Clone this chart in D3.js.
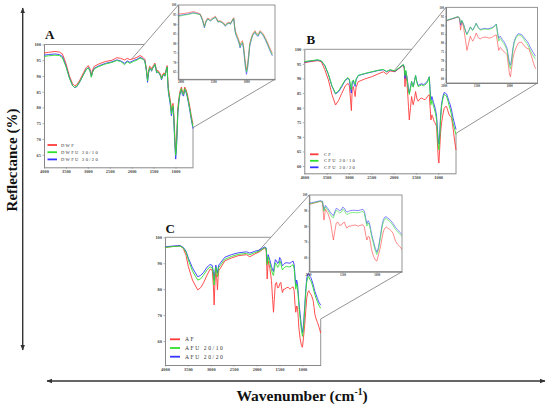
<!DOCTYPE html>
<html lang="en">
<head>
<meta charset="UTF-8">
<title>FTIR reflectance</title>
<script src="https://cdn.jsdelivr.net/npm/d3@7"></script>
<style>
  body { margin: 0; background: #fff; }
</style>
</head>
<body>
<div id="chart"></div>
<script>
// ---- panel A : wavenumber (cm-1) and reflectance (%) ----
const wnA = [4000, 3900, 3750, 3650, 3580, 3500, 3420, 3350, 3300, 3250,
  3180, 3100, 3040, 2990, 2950, 2920, 2890, 2850, 2750, 2600,
  2450, 2340, 2250, 2160, 2100, 2040, 1960, 1880, 1810, 1760,
  1735, 1700, 1665, 1637, 1615, 1590, 1565, 1545, 1520, 1490,
  1470, 1450, 1430, 1400, 1370, 1340, 1318, 1290, 1260, 1240,
  1215, 1190, 1175, 1160, 1130, 1110, 1093, 1075, 1056, 1040,
  1025, 1010, 995, 980, 965, 945, 920, 900, 865, 840,
  815, 790, 760, 730, 700, 670, 640, 600];
const dwf = [97.3, 97.5, 97.8, 97.6, 97.0, 94.0, 90.0, 87.6, 86.9, 87.2,
  88.8, 91.0, 92.6, 93.3, 92.3, 90.4, 92.0, 93.1, 93.8, 94.6,
  95.0, 95.8, 95.6, 95.1, 95.6, 95.2, 95.5, 95.9, 96.5, 96.1,
  95.8, 95.3, 92.5, 89.1, 91.5, 93.1, 92.8, 92.2, 93.0, 93.6,
  94.1, 93.0, 91.5, 91.8, 91.2, 90.5, 89.4, 90.6, 91.0, 90.4,
  92.0, 93.3, 89.0, 86.0, 83.3, 81.5, 79.0, 80.5, 81.3, 78.5,
  74.0, 69.5, 66.0, 68.5, 73.0, 80.0, 83.0, 85.0, 86.5, 85.0,
  84.5, 86.5, 85.7, 84.3, 82.2, 80.0, 77.5, 74.6];
const dwfu2010 = [96.2, 96.4, 96.6, 96.5, 95.8, 93.0, 89.3, 87.0, 86.4, 86.7,
  88.3, 90.4, 92.0, 92.6, 91.6, 89.6, 91.2, 92.3, 93.0, 93.8,
  94.3, 94.9, 94.6, 93.6, 94.5, 94.0, 94.6, 95.0, 95.7, 95.4,
  95.2, 94.8, 92.0, 88.5, 91.0, 92.6, 92.3, 91.7, 92.5, 93.1,
  93.7, 92.6, 91.1, 91.4, 90.8, 90.1, 89.0, 90.2, 90.6, 90.0,
  91.6, 92.9, 88.0, 85.0, 82.5, 80.6, 78.0, 79.8, 80.6, 77.5,
  72.5, 68.0, 64.8, 67.0, 71.8, 79.0, 82.3, 84.4, 86.0, 84.4,
  84.0, 86.0, 85.2, 83.7, 81.6, 79.3, 76.7, 73.8];
const dwfu2020 = [96.6, 96.8, 97.0, 96.8, 96.2, 93.3, 89.4, 87.0, 86.3, 86.6,
  88.2, 90.4, 92.0, 92.7, 91.7, 89.8, 91.4, 92.5, 93.2, 94.0,
  94.5, 95.1, 94.8, 94.0, 94.8, 94.3, 94.9, 95.3, 95.9, 95.6,
  95.4, 94.9, 91.8, 88.0, 90.8, 92.5, 92.2, 91.5, 92.4, 93.0,
  93.6, 92.5, 91.0, 91.3, 90.7, 90.0, 88.8, 90.0, 90.5, 89.9,
  91.5, 92.8, 87.6, 84.6, 82.0, 80.0, 77.4, 79.2, 80.0, 76.8,
  71.8, 67.0, 63.6, 66.2, 71.0, 78.4, 81.9, 84.0, 85.6, 84.0,
  83.6, 85.7, 84.9, 83.3, 81.2, 78.8, 76.2, 73.3];

// ---- panel B ----
const wnB = [4000, 3850, 3700, 3620, 3540, 3460, 3380, 3300, 3230, 3160,
  3080, 3020, 2990, 2965, 2945, 2925, 2900, 2880, 2860, 2840,
  2790, 2650, 2490, 2350, 2230, 2155, 2080, 1968, 1880, 1781,
  1760, 1744, 1725, 1700, 1665, 1647, 1620, 1595, 1575, 1558,
  1530, 1506, 1475, 1446, 1410, 1371, 1330, 1296, 1260, 1237,
  1199, 1180, 1162, 1140, 1125, 1105, 1088, 1060, 1035, 1010,
  995, 983, 965, 945, 924, 895, 864, 840, 812, 785,
  760, 730, 700, 680, 662, 630, 600];
const cf = [95.4, 95.8, 96.1, 95.8, 93.0, 89.5, 84.5, 80.9, 82.5, 84.9,
  87.5, 88.3, 87.5, 83.0, 79.0, 86.5, 87.2, 85.5, 83.8, 87.0,
  88.9, 89.8, 90.6, 91.5, 92.3, 91.5, 92.6, 92.3, 93.4, 94.5,
  93.5, 87.2, 91.7, 89.0, 80.5, 75.8, 80.0, 83.8, 82.0, 81.0,
  83.0, 85.5, 83.0, 82.2, 83.0, 83.3, 82.9, 82.7, 83.3, 83.9,
  84.5, 80.0, 75.8, 77.5, 77.0, 76.0, 75.2, 74.5, 73.5, 66.0,
  62.0, 61.0, 66.0, 71.5, 74.7, 77.5, 79.8, 80.3, 80.4, 79.0,
  77.8, 77.0, 76.6, 74.5, 72.6, 68.5, 65.5];
const cfu2010 = [95.8, 96.1, 96.4, 96.1, 94.5, 91.5, 87.5, 84.9, 85.8, 87.6,
  89.6, 90.3, 89.8, 88.0, 86.2, 89.0, 89.5, 88.6, 88.0, 89.8,
  91.1, 91.7, 92.3, 92.8, 93.1, 92.4, 93.0, 92.6, 93.6, 94.8,
  94.0, 91.0, 92.8, 90.5, 86.0, 84.5, 86.5, 89.0, 87.5, 87.0,
  89.0, 91.0, 88.5, 87.2, 87.5, 87.8, 87.5, 87.8, 88.3, 88.8,
  90.5, 85.0, 81.0, 82.5, 81.8, 80.6, 79.8, 78.0, 75.8, 70.0,
  66.5, 65.5, 69.5, 76.0, 80.4, 83.0, 84.5, 84.2, 83.9, 82.5,
  81.0, 79.5, 77.5, 75.8, 74.5, 72.5, 70.8];
const cfu2020 = [95.6, 96.0, 96.3, 96.0, 94.4, 91.4, 87.3, 84.7, 85.5, 87.2,
  89.4, 90.1, 89.4, 86.8, 85.0, 88.5, 89.3, 88.0, 87.3, 89.5,
  91.0, 91.6, 92.2, 92.7, 93.0, 92.3, 92.9, 92.5, 93.5, 94.7,
  93.8, 90.0, 92.5, 90.6, 86.5, 85.0, 87.0, 89.0, 87.8, 87.3,
  89.2, 91.0, 88.8, 87.6, 87.9, 88.2, 87.9, 88.2, 88.7, 89.2,
  90.6, 86.0, 82.5, 83.8, 83.0, 81.8, 81.0, 79.3, 77.0, 71.5,
  68.0, 67.5, 71.0, 77.2, 81.2, 83.7, 85.2, 85.0, 84.7, 83.5,
  82.2, 81.0, 79.2, 77.5, 76.3, 74.3, 72.5];

// ---- panel C ----
const wnC = [4000, 3850, 3672, 3600, 3540, 3490, 3400, 3286, 3220, 3162,
  3080, 3017, 2970, 2945, 2927, 2910, 2890, 2870, 2854, 2840,
  2825, 2694, 2550, 2403, 2221, 2148, 2039, 1950, 1820, 1790,
  1769, 1755, 1748, 1710, 1675, 1650, 1631, 1610, 1590, 1566,
  1540, 1515, 1495, 1471, 1450, 1435, 1410, 1384, 1350, 1311,
  1270, 1240, 1202, 1180, 1160, 1144, 1125, 1107, 1090, 1078,
  1050, 1020, 998, 975, 947, 925, 903, 880, 859, 840,
  816, 790, 765, 745, 728, 700, 670, 640, 600];
const af = [96.1, 96.4, 96.7, 95.7, 93.0, 88.7, 83.5, 79.7, 80.6, 82.3,
  85.5, 87.7, 87.4, 82.0, 73.9, 82.0, 87.7, 84.0, 79.7, 84.5,
  87.1, 90.9, 92.0, 92.9, 93.3, 92.5, 93.6, 94.3, 95.9, 95.0,
  83.9, 88.0, 91.0, 88.0, 83.3, 76.0, 71.1, 77.0, 82.0, 82.6,
  80.5, 80.7, 82.0, 82.6, 80.0, 78.7, 80.0, 80.0, 80.5, 80.7,
  80.0, 80.5, 80.9, 79.5, 74.0, 71.1, 73.5, 73.0, 69.0, 65.3,
  61.0, 58.2, 57.6, 61.5, 66.6, 72.0, 76.9, 78.8, 79.4, 78.6,
  78.1, 77.0, 75.6, 73.0, 70.4, 68.5, 67.2, 65.5, 63.1];
const afu2010 = [96.1, 96.4, 96.6, 95.9, 94.2, 91.3, 87.0, 83.5, 84.0, 85.3,
  87.5, 88.6, 88.3, 85.5, 81.6, 85.5, 88.5, 86.5, 84.8, 86.8,
  88.4, 91.5, 92.6, 93.4, 93.8, 93.3, 94.1, 94.6, 96.0, 95.6,
  89.5, 91.5, 92.5, 90.0, 87.4, 85.8, 85.3, 88.0, 90.1, 89.5,
  88.4, 89.0, 90.9, 90.0, 88.2, 87.4, 88.0, 88.5, 88.8, 88.6,
  88.6, 89.0, 89.5, 88.0, 83.5, 80.0, 82.0, 80.5, 77.0, 74.0,
  69.0, 64.0, 61.8, 65.0, 72.5, 78.9, 83.0, 84.6, 84.8, 83.8,
  83.2, 82.0, 80.5, 79.0, 77.9, 76.5, 75.0, 73.8, 72.6];
const afu2020 = [96.3, 96.6, 96.8, 96.1, 94.6, 92.0, 88.2, 84.8, 85.3, 86.4,
  88.5, 89.5, 89.2, 86.8, 83.5, 86.8, 89.3, 87.8, 86.2, 88.0,
  89.3, 92.3, 93.3, 94.0, 94.4, 93.9, 94.6, 95.0, 96.3, 95.9,
  90.5, 92.5, 93.3, 91.2, 88.8, 87.4, 86.8, 89.4, 91.4, 90.9,
  89.9, 90.5, 92.2, 91.4, 89.7, 89.0, 89.5, 90.0, 90.2, 90.1,
  90.0, 90.4, 90.8, 89.5, 85.0, 81.5, 83.5, 82.0, 78.5, 75.5,
  70.5, 65.5, 63.2, 66.5, 74.0, 80.2, 84.3, 85.9, 86.0, 85.0,
  84.5, 83.2, 81.8, 80.4, 79.2, 77.8, 76.3, 75.0, 73.8];

// legend names and ticks
const namesA = ["DWF", "DWFU 20/10", "DWFU 20/20"];
const namesB = ["CF", "CFU 20/10", "CFU 20/20"];
const namesC = ["AF", "AFU 20/10", "AFU 20/20"];
const xTicks = [4000, 3500, 3000, 2500, 2000, 1500, 1000];
const insetXTicks = [2000, 1500, 1000];
const yTicksAB = [60, 65, 70, 75, 80, 85, 90, 95, 100];
const yTicksC = [60, 70, 80, 90, 100];

const SERIF = "'Liberation Serif', 'DejaVu Serif', serif";
const colors = ["#ff3b3b", "#2fe02f", "#3535ff"];
const drawOrder = [0, 2, 1];

// layout of each panel (pixels)
const panels = [
  { label: "A", wn: wnA, series: [dwf, dwfu2010, dwfu2020], names: namesA,
    yDomain: [61, 100], yTicks: yTicksAB.filter(v => v >= 65),
    main: { left: 44, right: 193, top: 44.5, bottom: 167.3 }, endVal: 73.6,
    inset: { left: 178.3, right: 275, top: 5, bottom: 79.3, xDomain: [2035, 560] },
    labelPos: [45, 38.5],
    legend: { x0: 47.5, x1: 57, tx: 61, y: 145, dy: 7.2, fs: 4.6 } },
  { label: "B", wn: wnB, series: [cf, cfu2010, cfu2020], names: namesB,
    yDomain: [57.5, 100], yTicks: yTicksAB,
    main: { left: 304.3, right: 456, top: 49.3, bottom: 173.3 }, endVal: 71.2,
    inset: { left: 446, right: 537.5, top: 7.3, bottom: 83, xDomain: [1967, 570] },
    labelPos: [306.5, 44],
    legend: { x0: 310, x1: 318.5, tx: 324, y: 154.3, dy: 6.5, fs: 4.6 } },
  { label: "C", wn: wnC, series: [af, afu2010, afu2020], names: namesC,
    yDomain: [50.75, 100], yTicks: yTicksC,
    main: { left: 165, right: 320.7, top: 237.3, bottom: 365 }, endVal: 68.5,
    inset: { left: 309.3, right: 402, top: 195, bottom: 271.7, xDomain: [1982, 633] },
    labelPos: [165.5, 232.5],
    legend: { x0: 170, x1: 180, tx: 185, y: 339.3, dy: 8.7, fs: 5.6 } }
];

const svg = d3.select("#chart").append("svg")
  .attr("width", 550)
  .attr("height", 407)
  .attr("font-family", SERIF);

const defs = svg.append("defs");
defs.append("marker")
  .attr("id", "arrow")
  .attr("viewBox", "0 0 10 10")
  .attr("refX", 9).attr("refY", 5)
  .attr("markerWidth", 4).attr("markerHeight", 4)
  .attr("orient", "auto-start-reverse")
  .append("path")
  .attr("d", "M0,1L10,5L0,9Z")
  .attr("fill", "#333");

// linear interpolation of a series at wavenumber w
function valueAt(wn, vals, w) {
  for (let k = 0; k < wn.length - 1; k++) {
    if (wn[k] >= w && wn[k + 1] <= w) {
      const t = (wn[k] - w) / (wn[k] - wn[k + 1]);
      return vals[k] + t * (vals[k + 1] - vals[k]);
    }
  }
  return vals[vals.length - 1];
}

function styleAxis(sel, fs) {
  sel.attr("font-family", SERIF);
  sel.select(".domain").attr("stroke", "#7a7a7a").attr("stroke-width", 0.9);
  sel.selectAll(".tick line").attr("stroke", "#7a7a7a").attr("stroke-width", 0.6);
  sel.selectAll(".tick text")
    .attr("font-size", fs)
    .attr("font-weight", "bold")
    .attr("font-family", SERIF)
    .attr("fill", "#444");
}

const fmt = d3.format("d");

panels.forEach((p, pi) => {
  const m = p.main;
  const g = svg.append("g");

  const x = d3.scaleLinear().domain([4000, 600]).range([m.left, m.right]);
  const y = d3.scaleLinear().domain(p.yDomain).range([m.bottom, m.top]);

  // axes
  g.append("g")
    .attr("transform", "translate(" + m.left + ",0)")
    .call(d3.axisLeft(y).tickValues(p.yTicks).tickFormat(fmt).tickSize(1.5).tickSizeOuter(0).tickPadding(1.5))
    .call(s => styleAxis(s, 4.4));
  g.append("g")
    .attr("transform", "translate(0," + m.bottom + ")")
    .call(d3.axisBottom(x).tickValues(xTicks).tickFormat(fmt).tickSize(1.5).tickSizeOuter(0).tickPadding(1.5))
    .call(s => styleAxis(s, 4.4));

  // connectors between main plot and inset
  const p0 = [x(2000), y(valueAt(p.wn, p.series[0], 2000))];
  const c0 = [p.inset.left, p.inset.top];
  const t = (p0[1] - m.top) / (p0[1] - c0[1]);
  const xCross = p0[0] + t * (c0[0] - p0[0]);
  const yEnd = y(p.endVal);
  const frame = [
    [[m.left, m.top], [xCross, m.top]],
    [p0, c0],
    [[m.right, m.bottom], [m.right, yEnd]],
    [[m.right, yEnd], [p.inset.right, p.inset.bottom]]
  ];
  g.selectAll("line.frame").data(frame).enter().append("line")
    .attr("class", "frame")
    .attr("x1", d => d[0][0]).attr("y1", d => d[0][1])
    .attr("x2", d => d[1][0]).attr("y2", d => d[1][1])
    .attr("stroke", "#7a7a7a")
    .attr("stroke-width", 0.8);

  // spectra
  const line = d3.line()
    .x((d, k) => x(p.wn[k]))
    .y(d => y(d));
  drawOrder.forEach(k => {
    g.append("path")
      .attr("d", line(p.series[k]))
      .attr("fill", "none")
      .attr("stroke", colors[k])
      .attr("stroke-width", 0.9)
      .attr("stroke-linejoin", "round");
  });

  // legend
  const L = p.legend;
  p.names.forEach((nm, k) => {
    g.append("line")
      .attr("x1", L.x0).attr("x2", L.x1)
      .attr("y1", L.y + k * L.dy).attr("y2", L.y + k * L.dy)
      .attr("stroke", colors[k])
      .attr("stroke-width", 1.8);
    g.append("text")
      .attr("x", L.tx)
      .attr("y", L.y + k * L.dy + L.fs * 0.35)
      .attr("font-size", L.fs)
      .attr("letter-spacing", L.fs * 0.28)
      .attr("fill", "#333")
      .text(nm);
  });

  // panel letter
  g.append("text")
    .attr("x", p.labelPos[0]).attr("y", p.labelPos[1])
    .attr("font-size", 13)
    .attr("font-weight", "bold")
    .attr("fill", "#111")
    .text(p.label);

  // inset (zoom of the fingerprint region)
  const ins = p.inset;
  const ig = svg.append("g");
  const xi = d3.scaleLinear().domain(ins.xDomain).range([ins.left, ins.right]);
  const yi = d3.scaleLinear().domain(p.yDomain).range([ins.bottom, ins.top]);
  ig.append("rect")
    .attr("x", ins.left).attr("y", ins.top)
    .attr("width", ins.right - ins.left).attr("height", ins.bottom - ins.top)
    .attr("fill", "#fff");
  defs.append("clipPath").attr("id", "clip" + pi)
    .append("rect")
    .attr("x", ins.left).attr("y", ins.top)
    .attr("width", ins.right - ins.left).attr("height", ins.bottom - ins.top);
  ig.append("g")
    .attr("transform", "translate(" + ins.left + ",0)")
    .call(d3.axisLeft(yi).tickValues(p.yTicks).tickFormat(fmt).tickSize(1).tickSizeOuter(0).tickPadding(1))
    .call(s => styleAxis(s, 3));
  ig.append("g")
    .attr("transform", "translate(0," + ins.bottom + ")")
    .call(d3.axisBottom(xi).tickValues(insetXTicks).tickFormat(fmt).tickSize(1).tickSizeOuter(0).tickPadding(1))
    .call(s => styleAxis(s, 3));
  const iline = d3.line()
    .x((d, k) => xi(p.wn[k]))
    .y(d => yi(d));
  const lg = ig.append("g").attr("clip-path", "url(#clip" + pi + ")");
  drawOrder.forEach(k => {
    lg.append("path")
      .attr("d", iline(p.series[k]))
      .attr("fill", "none")
      .attr("stroke", colors[k])
      .attr("stroke-width", 0.7)
      .attr("stroke-opacity", 0.85)
      .attr("stroke-linejoin", "round");
  });
  ig.append("rect")
    .attr("x", ins.left).attr("y", ins.top)
    .attr("width", ins.right - ins.left).attr("height", ins.bottom - ins.top)
    .attr("fill", "none")
    .attr("stroke", "#7a7a7a")
    .attr("stroke-width", 0.8);
});

// outer axes with arrows
svg.append("line")
  .attr("x1", 22.7).attr("y1", 8).attr("x2", 22.7).attr("y2", 350)
  .attr("stroke", "#333").attr("stroke-width", 1.4)
  .attr("marker-start", "url(#arrow)").attr("marker-end", "url(#arrow)");
svg.append("line")
  .attr("x1", 47).attr("y1", 381).attr("x2", 545).attr("y2", 381)
  .attr("stroke", "#333").attr("stroke-width", 1.4)
  .attr("marker-start", "url(#arrow)").attr("marker-end", "url(#arrow)");

svg.append("text")
  .attr("transform", "translate(16.5,160) rotate(-90)")
  .attr("text-anchor", "middle")
  .attr("font-size", 15)
  .attr("font-weight", "bold")
  .attr("fill", "#111")
  .text("Reflectance (%)");

const xl = svg.append("text")
  .attr("x", 302).attr("y", 400.5)
  .attr("text-anchor", "middle")
  .attr("font-size", 15.5)
  .attr("font-weight", "bold")
  .attr("fill", "#111");
xl.append("tspan").text("Wavenumber (cm");
xl.append("tspan").attr("dy", -5.5).attr("font-size", 9.5).text("-1");
xl.append("tspan").attr("dy", 5.5).text(")");
</script>
</body>
</html>
